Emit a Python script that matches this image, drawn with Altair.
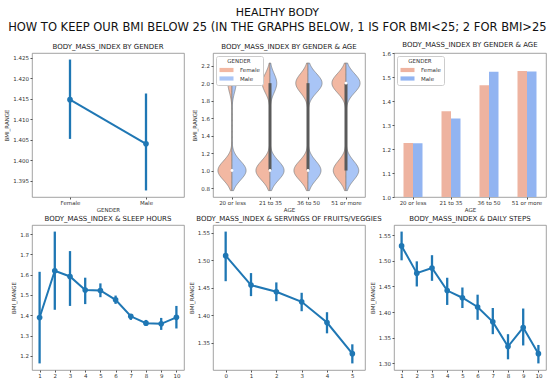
import altair as alt
import pandas as pd

FONT = "DejaVu Sans"
BLUE = "#1f77b4"
W, H1, H2 = 152, 144, 145

# ---- data ----
genders = ["Female", "Male"]
gender_mean = [1.4148, 1.4040]
gender_lo = [1.4052, 1.3926]
gender_hi = [1.4246, 1.4163]

ages = ["20 or less", "21 to 35", "36 to 50", "51 or more"]
bmi_female = [1.225, 1.357, 1.466, 1.525]
bmi_male = [1.224, 1.327, 1.522, 1.523]

sleep_hours = [1, 2, 3, 4, 5, 6, 7, 8, 9, 10]
sleep_mean = [1.389, 1.619, 1.591, 1.524, 1.522, 1.476, 1.395, 1.361, 1.358, 1.390]
sleep_lo = [1.163, 1.427, 1.446, 1.455, 1.489, 1.456, 1.377, 1.348, 1.328, 1.335]
sleep_hi = [1.614, 1.812, 1.716, 1.585, 1.557, 1.497, 1.405, 1.377, 1.387, 1.446]

fruits = [0, 1, 2, 3, 4, 5]
fruit_mean = [1.5085, 1.4549, 1.4427, 1.4244, 1.3866, 1.3299]
fruit_lo = [1.4620, 1.4348, 1.4256, 1.4073, 1.3670, 1.3122]
fruit_hi = [1.5524, 1.4768, 1.4598, 1.4409, 1.4055, 1.3470]

daily_steps = [1, 2, 3, 4, 5, 6, 7, 8, 9, 10]
steps_mean = [1.529, 1.476, 1.486, 1.442, 1.428, 1.410, 1.381, 1.333, 1.370, 1.319]
steps_lo = [1.501, 1.450, 1.461, 1.414, 1.408, 1.385, 1.357, 1.308, 1.335, 1.300]
steps_hi = [1.557, 1.499, 1.511, 1.467, 1.448, 1.434, 1.408, 1.357, 1.407, 1.336]

violin_colors = ["#f2b8a2", "#a9c5f6"]
bar_colors = ["#eeb3a0", "#92b4f1"]

SWATCH = "M-2,-0.6L2,-0.6L2,0.6L-2,0.6Z"


def yaxis(ticks, fmt, title="BMI_RANGE"):
    return alt.Axis(title=title, values=ticks, format=fmt, labelOverlap=False,
                    labelBound=False, labelFlush=False, tickCount=len(ticks))


def legend(colors_title="GENDER"):
    return alt.Legend(
        title=colors_title, orient="top-left", offset=3,
        fillColor="white", strokeColor="#cccccc", cornerRadius=2, padding=3,
        symbolType=SWATCH, symbolSize=49, symbolOffset=4, symbolStrokeWidth=0,
        labelOffset=10, labelFontSize=5.5, titleFontSize=5.5, titleFontWeight="normal",
        titleAnchor="middle", rowPadding=1.5, titlePadding=2, labelFont=FONT, titleFont=FONT,
        labelColor="#333", titleColor="#333",
    )


def pointplot(cats, mean, lo, hi, xtitle, title, ticks, fmt, h):
    df = pd.DataFrame({"x": cats, "m": mean, "lo": lo, "hi": hi})
    ymin, ymax = min(lo), max(hi)
    pad = (ymax - ymin) * 0.05
    dom = [ymin - pad, ymax + pad]
    xenc = alt.X("x:O", sort=cats, scale=alt.Scale(type="point", padding=0.5),
                 axis=alt.Axis(title=xtitle, labelAngle=0, labelOverlap=False))
    yscale = alt.Scale(domain=dom, zero=False, nice=False)
    base = alt.Chart(df)
    err = base.mark_rule(color=BLUE, strokeWidth=2.3).encode(
        x=xenc,
        y=alt.Y("lo:Q", scale=yscale, axis=yaxis(ticks, fmt)),
        y2="hi:Q")
    line = base.mark_line(color=BLUE, strokeWidth=2).encode(x=xenc, y=alt.Y("m:Q", scale=yscale))
    pts = base.mark_circle(color=BLUE, size=32, opacity=1).encode(x=xenc, y=alt.Y("m:Q", scale=yscale))
    return alt.layer(err, line, pts).properties(width=W, height=h, title=title)


# ---- panel 1 ----
p1 = pointplot(genders, gender_mean, gender_lo, gender_hi, "GENDER",
               "BODY_MASS_INDEX BY GENDER",
               [1.395, 1.400, 1.405, 1.410, 1.415, 1.420, 1.425], ".3f", H1)

# ---- panel 2 (split violins) ----
N = 200
rows = []
for i, age in enumerate(ages):
    for g, mean, sgn in (("Female", bmi_female[i], -1), ("Male", bmi_male[i], 1)):
        n2 = int(round((mean - 1) * N))
        for k in range(N):
            rows.append({"AGE": age, "IDX": i, "GENDER": g, "SIGN": sgn, "BMI": 2 if k < n2 else 1})
vdf = pd.DataFrame(rows)

label_expr = "[" + ",".join("'%s'" % a for a in ages) + "][datum.value]"
vx = alt.X("xo:Q", stack=None, scale=alt.Scale(domain=[-0.5, 3.5], nice=False, zero=False),
           axis=alt.Axis(values=[0, 1, 2, 3], labelExpr=label_expr, title="AGE", labelOverlap=False))
vy_scale = alt.Scale(domain=[0.697, 2.345], zero=False, nice=False)

violin = alt.Chart(vdf).transform_density(
    "BMI", as_=["BMI", "density"], groupby=["AGE", "IDX", "GENDER", "SIGN"],
    bandwidth=0.11, extent=[0.77, 2.23], steps=150
).transform_joinaggregate(
    maxd="max(density)", groupby=["AGE", "GENDER"]
).transform_calculate(
    xo="datum.IDX + datum.SIGN * datum.density / datum.maxd * 0.37",
    xc="datum.IDX"
).mark_area(orient="horizontal", stroke="#808080", strokeWidth=0.7, opacity=1).encode(
    x=vx, x2="xc:Q",
    y=alt.Y("BMI:Q", scale=vy_scale,
            axis=yaxis([0.8, 1.0, 1.2, 1.4, 1.6, 1.8, 2.0, 2.2], ".1f")),
    color=alt.Color("GENDER:N", scale=alt.Scale(domain=genders, range=violin_colors), legend=legend()),
    detail="AGE:N",
)

box = alt.Chart(vdf).transform_aggregate(
    q1="q1(BMI)", q3="q3(BMI)", groupby=["IDX"]
).mark_rule(color="#5a5a5a", strokeWidth=3).encode(
    x=alt.X("IDX:Q"), y=alt.Y("q1:Q", scale=vy_scale), y2="q3:Q")

med = alt.Chart(vdf).transform_aggregate(
    med="median(BMI)", groupby=["IDX"]
).mark_circle(color="white", size=8, opacity=1).encode(
    x=alt.X("IDX:Q"), y=alt.Y("med:Q", scale=vy_scale))

p2 = alt.layer(violin, box, med).properties(width=W, height=H1, title="BODY_MASS_INDEX BY GENDER & AGE")

# ---- panel 3 (bars) ----
bdf = pd.DataFrame({
    "AGE": ages + ages,
    "GENDER": ["Female"] * len(ages) + ["Male"] * len(ages),
    "BMI": bmi_female + bmi_male,
})
p3 = alt.Chart(bdf).mark_bar(clip=True).encode(
    x=alt.X("AGE:N", sort=ages, scale=alt.Scale(paddingInner=0.5, paddingOuter=0.25),
            axis=alt.Axis(labelAngle=0, title="AGE", labelOverlap=False)),
    xOffset=alt.XOffset("GENDER:N", sort=genders, scale=alt.Scale(paddingInner=0, paddingOuter=0)),
    y=alt.Y("BMI:Q", scale=alt.Scale(domain=[1.0, 1.6], zero=False, nice=False),
            axis=alt.Axis(title=None, values=[1.0, 1.1, 1.2, 1.3, 1.4, 1.5, 1.6], format=".1f",
                          labelOverlap=False, labelBound=False, labelFlush=False)),
    color=alt.Color("GENDER:N", scale=alt.Scale(domain=genders, range=bar_colors), legend=legend()),
).properties(width=W, height=H1, title="BODY_MASS_INDEX BY GENDER & AGE")

# ---- bottom row ----
p4 = pointplot(sleep_hours, sleep_mean, sleep_lo, sleep_hi, "SLEEP_HOURS",
               "BODY_MASS_INDEX & SLEEP HOURS", [1.2, 1.3, 1.4, 1.5, 1.6, 1.7, 1.8], ".1f", H2)
p5 = pointplot(fruits, fruit_mean, fruit_lo, fruit_hi, "FRUITS_VEGGIES",
               "BODY_MASS_INDEX & SERVINGS OF FRUITS/VEGGIES",
               [1.35, 1.40, 1.45, 1.50, 1.55], ".2f", H2)
p6 = pointplot(daily_steps, steps_mean, steps_lo, steps_hi, "DAILY_STEPS",
               "BODY_MASS_INDEX & DAILY STEPS",
               [1.30, 1.35, 1.40, 1.45, 1.50, 1.55], ".2f", H2)

chart = alt.concat(
    p1, p2, p3, p4, p5, p6, columns=3,
    spacing={"row": 28, "column": 29}, bounds="flush",
).resolve_scale(color="independent").resolve_legend(color="independent").properties(
    title=alt.TitleParams(
        text="HEALTHY BODY",
        subtitle="HOW TO KEEP OUR BMI BELOW 25 (IN THE GRAPHS BELOW, 1 IS FOR BMI<25; 2 FOR BMI>25",
        font=FONT, subtitleFont=FONT, fontSize=11, subtitleFontSize=11.5,
        fontWeight="normal", color="#111", subtitleColor="#111",
        anchor="middle", frame="bounds", subtitlePadding=4, offset=6.5, dx=2,
    ),
    padding={"left": 4, "top": 7, "right": 3, "bottom": 0},
).configure_axis(
    labelFont=FONT, titleFont=FONT, labelFontSize=5.5, titleFontSize=5.5,
    titleFontWeight="normal", labelColor="#333", titleColor="#333",
    tickColor="#555", tickSize=2, labelPadding=1.5, titlePadding=3,
    grid=False, domain=False, labelOverlap=False,
).configure_axisX(
    titlePadding=1.5,
).configure_view(
    stroke="#8a8a8a", strokeWidth=0.8,
).configure_title(
    font=FONT, fontSize=7, fontWeight="normal", color="#222", offset=3.5,
)

chart.save("out.html", embed_options={"renderer": "svg", "actions": False})
